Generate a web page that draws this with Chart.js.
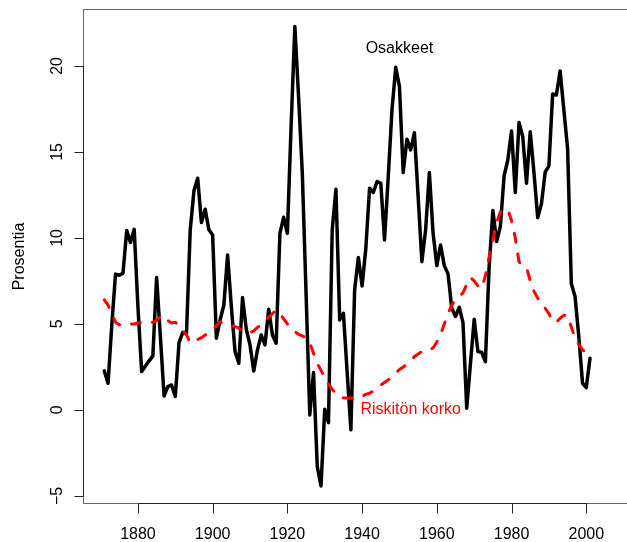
<!DOCTYPE html>
<html lang="fi">
<head>
<meta charset="UTF-8">
<title>Osakkeet ja riskitön korko</title>
<script src="https://cdn.jsdelivr.net/npm/chart.js"></script>
<style>
  html, body { margin: 0; padding: 0; background: #fff; }
  canvas { display: block; }
</style>
</head>
<body>
<canvas id="chart" width="627" height="542"></canvas>
<script>
// vuodet 1871-2001
const years = [];
for (let y = 1871; y <= 2001; y++) years.push(y);

// osakkeiden tuotto (%), luettu kuvasta
const osakkeet = [
  2.27, 1.55, 4.9, 7.9, 7.83, 7.95, 10.43, 9.73, 10.5, 6.0,
  2.23, 2.55, 2.85, 3.14, 7.7, 4.3, 0.81, 1.36, 1.45, 0.78,
  3.91, 4.51, 4.47, 10.47, 12.75, 13.47, 10.89, 11.67, 10.47, 10.17,
  4.17, 5.23, 6.1, 9.01, 6.0, 3.39, 2.71, 6.53, 4.7, 3.78,
  2.27, 3.49, 4.36, 3.78, 5.85, 4.36, 3.88, 10.27, 11.2, 10.27,
  16.5, 22.29, 18.2, 13.75, 6.8, -0.29, 2.17, -3.3, -4.42, 0.04,
  -0.74, 10.47, 12.83, 5.23, 5.62, 2.2, -1.16, 6.98, 8.86, 7.21,
  9.4, 12.89, 12.64, 13.28, 13.18, 9.88, 13.57, 17.44, 19.92, 18.8,
  13.8, 15.74, 15.12, 16.12, 12.4, 8.62, 10.47, 13.8, 10.27, 8.39,
  9.59, 8.39, 7.91, 5.91, 5.43, 5.97, 5.08, 0.1, 2.7, 5.27,
  3.39, 3.35, 2.81, 8.33, 11.59, 9.79, 10.66, 13.6, 14.53, 16.22,
  12.64, 16.71, 15.89, 13.18, 16.18, 13.8, 11.18, 11.98, 13.82, 14.19,
  18.37, 18.31, 19.71, 17.44, 15.21, 7.33, 6.59, 4.26, 1.55, 1.3,
  3.0
];

// riskitön korko (%), luettu kuvasta
const korko = [
  6.4, 6.1, 5.6, 5.1, 4.95, 4.95, 5.0, 5.0, 5.0, 5.05,
  5.1, 5.13, 5.1, 5.1, 5.2, 5.4, 5.5, 5.2, 5.05, 5.1,
  4.9, 4.6, 4.36, 3.9, 4.0, 4.1, 4.2, 4.35, 4.5, 4.65,
  4.9, 5.13, 5.0, 4.94, 4.9, 4.85, 4.75, 4.6, 4.46, 4.5,
  4.6, 4.8, 4.94, 5.2, 5.4, 5.6, 5.8, 5.6, 5.3, 5.0,
  4.75, 4.55, 4.4, 4.3, 4.2, 3.9, 3.3, 2.7, 2.3, 1.9,
  1.5, 1.2, 0.95, 0.75, 0.7, 0.7, 0.68, 0.7, 0.75, 0.8,
  0.9, 0.97, 1.1, 1.3, 1.45, 1.6, 1.75, 1.95, 2.15, 2.35,
  2.5, 2.65, 2.85, 3.1, 3.25, 3.4, 3.49, 3.5, 3.6, 3.95,
  4.4, 5.0, 5.6, 6.1, 6.4, 6.6, 6.8, 7.3, 7.7, 7.5,
  7.2, 7.07, 7.8, 8.9, 9.9, 10.9, 11.5, 11.7, 11.65, 11.0,
  10.0, 8.6, 8.4, 8.3, 7.5, 6.9, 6.5, 6.25, 5.9, 5.6,
  5.15, 5.1, 5.33, 5.5, 5.5, 4.8, 4.2, 3.8, 3.5, 3.3,
  3.1
];

const xTicks = [1880, 1900, 1920, 1940, 1960, 1980, 2000];
const yTicks = [-5, 0, 5, 10, 15, 20];

const FONT = '16px "Liberation Sans", Arial, sans-serif';

// R-tyylinen kehys, akselit ja tekstit
const rAxes = {
  id: 'rAxes',
  afterDraw(chart) {
    const { ctx, chartArea: a, scales: { x, y } } = chart;
    ctx.save();
    ctx.font = FONT;

    // kehys
    ctx.strokeStyle = '#666';
    ctx.lineWidth = 1;
    ctx.strokeRect(a.left + 0.5, a.top + 0.5, a.right - a.left + 2, a.bottom - a.top - 1);

    ctx.strokeStyle = '#222';
    ctx.fillStyle = '#000';

    // x-akseli
    const x0 = Math.round(x.getPixelForValue(xTicks[0])) + 0.5;
    const x1 = Math.round(x.getPixelForValue(xTicks[xTicks.length - 1])) + 0.5;
    const yb = a.bottom - 0.5;
    ctx.beginPath();
    ctx.moveTo(x0, yb); ctx.lineTo(x1, yb);
    xTicks.forEach(t => {
      const px = Math.round(x.getPixelForValue(t)) + 0.5;
      ctx.moveTo(px, yb); ctx.lineTo(px, yb + 10);
    });
    ctx.stroke();
    ctx.textAlign = 'center';
    ctx.textBaseline = 'alphabetic';
    xTicks.forEach(t => ctx.fillText(String(t), x.getPixelForValue(t), 539));

    // y-akseli
    const xl = a.left + 0.5;
    const y0 = Math.round(y.getPixelForValue(yTicks[0])) + 0.5;
    const y1 = Math.round(y.getPixelForValue(yTicks[yTicks.length - 1])) + 0.5;
    ctx.beginPath();
    ctx.moveTo(xl, y0); ctx.lineTo(xl, y1);
    yTicks.forEach(t => {
      const py = Math.round(y.getPixelForValue(t)) + 0.5;
      ctx.moveTo(xl, py); ctx.lineTo(xl - 9, py);
    });
    ctx.stroke();
    yTicks.forEach(t => {
      const py = y.getPixelForValue(t);
      ctx.save();
      ctx.translate(62, py);
      ctx.rotate(-Math.PI / 2);
      ctx.fillText(t < 0 ? '\u2212' + Math.abs(t) : String(t), 0, 0);
      ctx.restore();
    });

    // y-akselin otsikko
    ctx.save();
    ctx.translate(24, (a.top + a.bottom) / 2);
    ctx.rotate(-Math.PI / 2);
    ctx.fillText('Prosentia', 0, 0);
    ctx.restore();

    // sarjojen nimet
    ctx.textBaseline = 'middle';
    ctx.fillText('Osakkeet', x.getPixelForValue(1950), y.getPixelForValue(21));
    ctx.fillStyle = '#ff0000';
    ctx.fillText('Riskitön korko', x.getPixelForValue(1953), y.getPixelForValue(0));
    ctx.restore();
  }
};

const pts = arr => years.map((yr, i) => ({ x: yr, y: arr[i] }));

new Chart(document.getElementById('chart'), {
  type: 'line',
  data: {
    datasets: [
      {
        label: 'Riskitön korko',
        data: pts(korko),
        borderColor: '#ff0000',
        borderWidth: 3,
        borderDash: [9, 12],
        borderCapStyle: 'round',
        borderJoinStyle: 'round',
        pointRadius: 0,
        tension: 0,
        order: 0
      },
      {
        label: 'Osakkeet',
        data: pts(osakkeet),
        borderColor: '#000',
        borderWidth: 3.5,
        borderCapStyle: 'round',
        borderJoinStyle: 'round',
        pointRadius: 0,
        tension: 0,
        order: 1
      }
    ]
  },
  options: {
    responsive: false,
    animation: false,
    layout: { padding: { left: 83, right: 0, top: 9, bottom: 38 } },
    plugins: { legend: { display: false }, tooltip: { enabled: false } },
    scales: {
      x: { type: 'linear', min: 1865.3, max: 2010.9, display: false },
      y: { type: 'linear', min: -5.47, max: 23.31, display: false }
    }
  },
  plugins: [rAxes]
});
</script>
</body>
</html>
